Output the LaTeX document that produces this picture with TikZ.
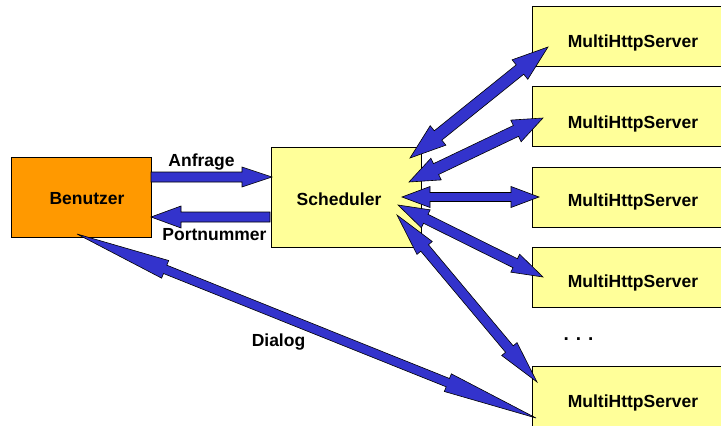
\documentclass[tikz,border=0pt]{standalone}
\usepackage{fontspec}
\setmainfont{Liberation Sans}
\usetikzlibrary{calc}
\definecolor{arrowblue}{HTML}{3333CC}
\definecolor{boxyellow}{HTML}{FFFF99}
\definecolor{boxorange}{HTML}{FF9900}
\tikzset{
  box/.style={draw=black, line width=0.8pt, inner sep=0pt},
  lbl/.style={font=\fontsize{17.5}{20}\selectfont\bfseries, inner sep=0pt},
  fat/.style={fill=arrowblue, draw=black, line width=0.6pt, line join=miter},
}
% double-headed fat arrow: from, to, shaft half width, head half width, head length
\newcommand\dblarrow[5]{%
  \coordinate (ha) at ($(#1)!#5pt!(#2)$);
  \coordinate (hb) at ($(#2)!#5pt!(#1)$);
  \filldraw[fat] (#1) -- ($(ha)!#4pt!-90:(#1)$) -- ($(ha)!#3pt!-90:(#1)$)
    -- ($(hb)!#3pt!90:(#2)$) -- ($(hb)!#4pt!90:(#2)$) -- (#2)
    -- ($(hb)!#4pt!-90:(#2)$) -- ($(hb)!#3pt!-90:(#2)$)
    -- ($(ha)!#3pt!90:(#1)$) -- ($(ha)!#4pt!90:(#1)$) -- cycle;
}
% single-headed fat arrow
\newcommand\onearrow[5]{%
  \coordinate (hb) at ($(#2)!#5pt!(#1)$);
  \filldraw[fat] ($(#1)!#3pt!90:(#2)$) -- ($(hb)!#3pt!90:(#2)$) -- ($(hb)!#4pt!90:(#2)$)
    -- (#2) -- ($(hb)!#4pt!-90:(#2)$) -- ($(hb)!#3pt!-90:(#2)$)
    -- ($(#1)!#3pt!-90:(#2)$) -- cycle;
}
\begin{document}
\begin{tikzpicture}[x=1pt,y=-1pt]
\useasboundingbox (0,0) rectangle (721,426);
\clip (0,0) rectangle (721,426);

% boxes
\node[box, fill=boxorange, minimum width=140pt, minimum height=80pt,
      label={[lbl, xshift=6pt, yshift=-2pt]center:Benutzer}] (benutzer) at (81,197) {};
\node[box, fill=boxyellow, minimum width=150pt, minimum height=100pt,
      label={[lbl, xshift=-7pt, yshift=-2pt]center:Scheduler}] (sched) at (346,197) {};
\foreach \n/\y/\s in {s1/36/-7, s2/116/-8, s3/197/-5, s4/277/-6, s5/396.5/-6}{
  \node[box, fill=boxyellow, minimum width=202pt, minimum height=60pt,
        label={[lbl, yshift=\s pt]center:MultiHttpServer}] (\n) at (633,\y) {};
}
\node[font=\fontsize{19}{20}\selectfont\bfseries, inner sep=0pt] (dots) at (578.5,339) {. . .};

% connector end points
\coordinate (anfA) at (151,177);
\coordinate (anfB) at (272,177);
\coordinate (porA) at (270,217);
\coordinate (porB) at (151,217);
\coordinate (c1) at (410,158); \coordinate (t1) at (548,47);
\coordinate (c2) at (409,182); \coordinate (t2) at (543,118);
\coordinate (c3) at (402,197); \coordinate (t3) at (539,197);
\coordinate (c4) at (398,205); \coordinate (t4) at (543,277);
\coordinate (c5) at (397,215); \coordinate (t5) at (537,382);
\coordinate (d1) at (77,234);  \coordinate (d2) at (536,418);

% arrows
\onearrow{anfA}{anfB}{5}{10}{30}
\onearrow{porA}{porB}{5}{11}{30}
\dblarrow{c1}{t1}{6}{12.5}{36}
\dblarrow{c2}{t2}{6}{12}{30}
\dblarrow{c3}{t3}{4.5}{10.5}{28}
\dblarrow{c4}{t4}{5}{10}{31}
\dblarrow{c5}{t5}{5}{10}{43}
\dblarrow{d1}{d2}{4.5}{9.5}{95}

% labels
\node[lbl] (anfrage) at (201.5,162.5) {Anfrage};
\node[lbl] (portnr) at (214.5,235) {Portnummer};
\node[lbl] (dialog) at (278.5,342) {Dialog};
\end{tikzpicture}
\end{document}
